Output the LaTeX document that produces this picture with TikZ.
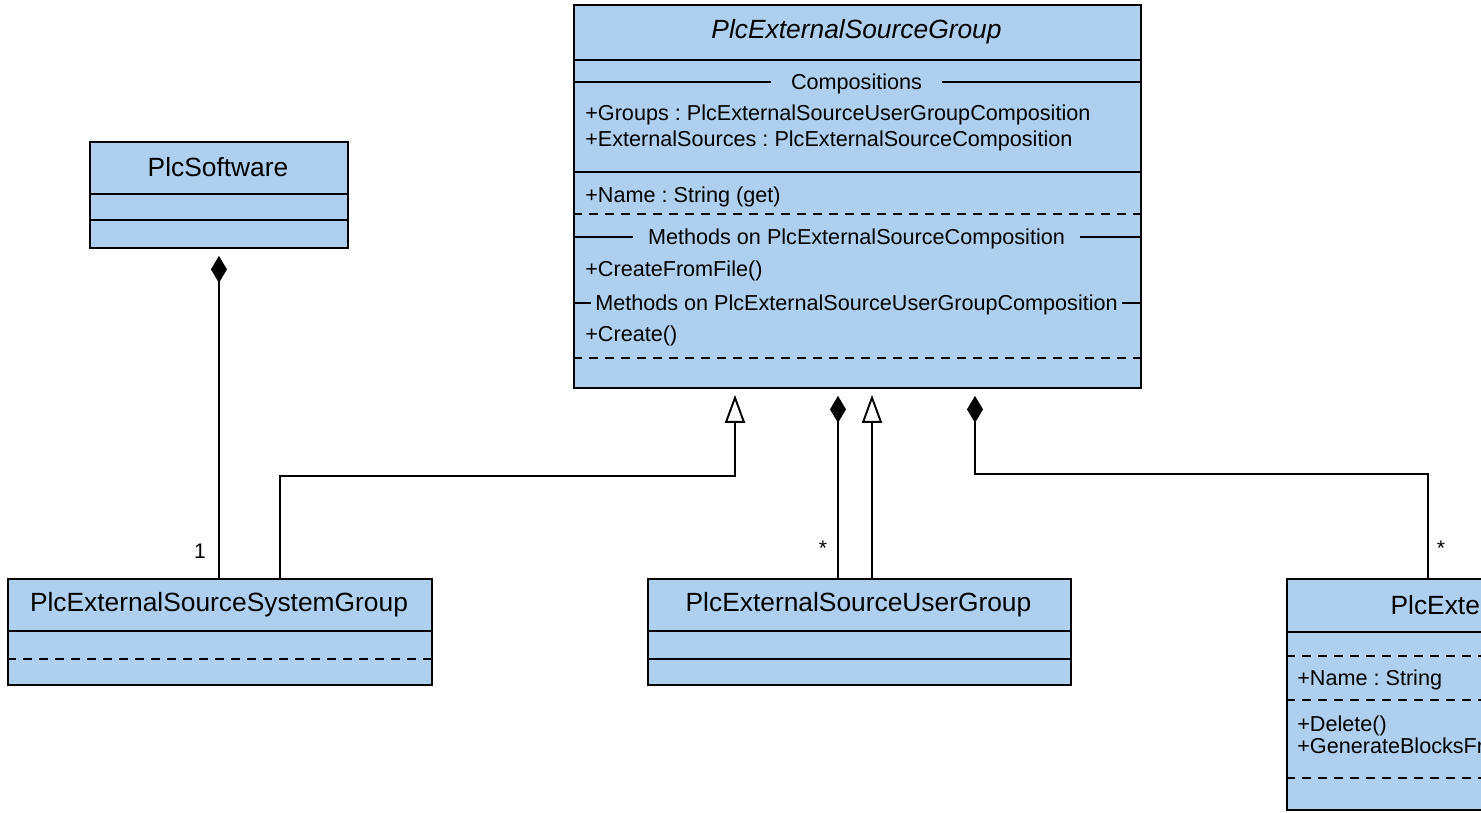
\documentclass[tikz,border=0pt]{standalone}
\usepackage{fontspec}
\setmainfont{Liberation Sans}
\usetikzlibrary{arrows.meta}
\definecolor{classblue}{RGB}{174,207,238}
\frenchspacing

\begin{document}
\begin{tikzpicture}[x=0.02cm,y=-0.02cm]
   \tikzstyle{classbox}=[draw=black,line width=1.1pt,fill=classblue,inner sep=0pt,anchor=north west]
   \tikzstyle{title}=[font=\fontsize{15pt}{18pt}\selectfont]
   \tikzstyle{member}=[font=\fontsize{12.3pt}{14pt}\selectfont,anchor=west,inner sep=0pt,text height=11pt,text depth=2.5pt]
   \tikzstyle{header}=[font=\fontsize{12.3pt}{14pt}\selectfont,fill=classblue,inner ysep=0pt,text height=11pt,text depth=2.5pt]
   \tikzstyle{sep}=[line width=0.8pt]
   \tikzstyle{dsep}=[line width=0.8pt,dash pattern=on 0.18cm off 0.14cm]
   \tikzstyle{comp}=[line width=1.1pt,-{Diamond[length=0.54cm,width=0.32cm]},shorten >=0.14cm]
   \tikzstyle{gen}=[line width=1.1pt,-{Triangle[open,length=0.56cm,width=0.4cm,fill=white]},shorten >=0.12cm]
   \tikzstyle{mult}=[font=\fontsize{12pt}{14pt}\selectfont]

   \useasboundingbox (0,0) rectangle (1481,812);
   \clip (0,0) rectangle (1481,812);

   % classes
   \node[classbox,minimum width=11.34cm,minimum height=7.66cm] (grp) at (573,4) {};
   \node[classbox,minimum width=5.16cm,minimum height=2.12cm] (soft) at (89,141) {};
   \node[classbox,minimum width=8.48cm,minimum height=2.12cm] (sysgrp) at (7,578) {};
   \node[classbox,minimum width=8.46cm,minimum height=2.12cm] (usrgrp) at (647,578) {};
   \node[classbox,minimum width=8.52cm,minimum height=4.62cm] (extsrc) at (1286,578) {};

   % PlcExternalSourceGroup
   \node[title,font=\fontsize{15pt}{18pt}\selectfont\itshape] (grptitle) at (856.5,32) {PlcExternalSourceGroup};
   \draw[sep] (grp.west |- 0,60) -- (grp.east |- 0,60);
   \draw[sep] (grp.west |- 0,82) -- (grp.east |- 0,82);
   \node[header,inner xsep=0.4cm] (grpcomp) at (856.5,82) {Compositions};
   \node[member] (grpgroups) at (585,113) {+Groups : PlcExternalSourceUserGroupComposition};
   \node[member] (grpsources) at (585,139) {+ExternalSources : PlcExternalSourceComposition};
   \draw[sep] (grp.west |- 0,172) -- (grp.east |- 0,172);
   \node[member] (grpname) at (585,195) {+Name : String (get)};
   \draw[dsep] (grp.west |- 0,214) -- (grp.east |- 0,214);
   \draw[sep] (grp.west |- 0,237) -- (grp.east |- 0,237);
   \node[header,inner xsep=0.3cm] (grpmeth1) at (856.5,237) {Methods on PlcExternalSourceComposition};
   \node[member] (grpfromfile) at (585,269) {+CreateFromFile()};
   \draw[sep] (grp.west |- 0,303) -- (grp.east |- 0,303);
   \node[header,inner xsep=0.08cm] (grpmeth2) at (856.5,303) {Methods on PlcExternalSourceUserGroupComposition};
   \node[member] (grpcreate) at (585,334) {+Create()};
   \draw[dsep] (grp.west |- 0,358) -- (grp.east |- 0,358);

   % PlcSoftware
   \node[title] (softtitle) at (218,167) {PlcSoftware};
   \draw[sep] (soft.west |- 0,194) -- (soft.east |- 0,194);
   \draw[sep] (soft.west |- 0,220) -- (soft.east |- 0,220);

   % PlcExternalSourceSystemGroup
   \node[title] (systitle) at (219,605) {PlcExternalSourceSystemGroup};
   \draw[sep] (sysgrp.west |- 0,631) -- (sysgrp.east |- 0,631);
   \draw[dsep] (sysgrp.west |- 0,659) -- (sysgrp.east |- 0,659);

   % PlcExternalSourceUserGroup
   \node[title] (usrtitle) at (858.5,605) {PlcExternalSourceUserGroup};
   \draw[sep] (usrgrp.west |- 0,631) -- (usrgrp.east |- 0,631);
   \draw[sep] (usrgrp.west |- 0,659) -- (usrgrp.east |- 0,659);

   % PlcExternalSource
   \node[title] (exttitle) at (1499,605) {PlcExternalSource};
   \draw[sep] (extsrc.west |- 0,632) -- (extsrc.east |- 0,632);
   \draw[dsep] (extsrc.west |- 0,656) -- (extsrc.east |- 0,656);
   \node[member] (extname) at (1297,678) {+Name : String};
   \draw[dsep] (extsrc.west |- 0,700) -- (extsrc.east |- 0,700);
   \node[member] (extdelete) at (1297,724) {+Delete()};
   \node[member] (extgenerate) at (1297,746) {+GenerateBlocksFromSource()};
   \draw[dsep] (extsrc.west |- 0,778) -- (extsrc.east |- 0,778);

   % relations
   \draw[comp] (sysgrp.north -| soft.south) -- (soft.south);
   \draw[gen] (sysgrp.north -| 280,0) |- (735,476) -- (grp.south -| 735,0);
   \draw[comp] (usrgrp.north -| 838,0) -- (grp.south -| 838,0);
   \draw[gen] (usrgrp.north -| 872,0) -- (grp.south -| 872,0);
   \draw[comp] (extsrc.north -| 1428,0) |- (975,474) -- (grp.south -| 975,0);

   \node[mult] (m1) at (200,551) {1};
   \node[mult] (m2) at (823,548) {*};
   \node[mult] (m3) at (1441,548) {*};
\end{tikzpicture}
\end{document}
